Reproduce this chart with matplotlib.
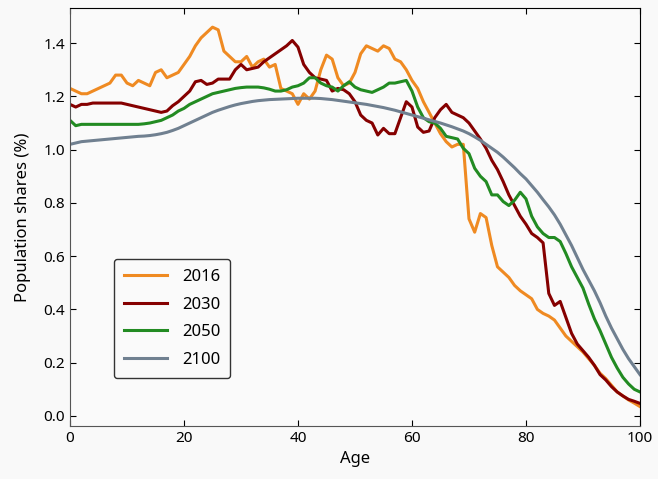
import matplotlib
matplotlib.use('Agg')
import matplotlib.pyplot as plt
import numpy as np

# 年龄 0..100
ages = np.arange(0, 101)

share_2016 = [
    1.23, 1.22, 1.21, 1.21, 1.22, 1.23, 1.24, 1.25, 1.28, 1.28,
    1.25, 1.24, 1.26, 1.25, 1.24, 1.29, 1.30, 1.27, 1.28, 1.29,
    1.32, 1.35, 1.39, 1.42, 1.44, 1.46, 1.45, 1.37, 1.35, 1.33,
    1.33, 1.35, 1.31, 1.33, 1.34, 1.31, 1.32, 1.23, 1.22, 1.21,
    1.17, 1.21, 1.19, 1.22, 1.30, 1.355, 1.34, 1.27, 1.24, 1.25,
    1.29, 1.36, 1.39, 1.38, 1.37, 1.39, 1.38, 1.34, 1.33, 1.30,
    1.26, 1.23, 1.18, 1.14, 1.10, 1.06, 1.03, 1.01, 1.02, 1.02,
    0.74, 0.69, 0.76, 0.745, 0.64, 0.56, 0.54, 0.52, 0.49, 0.47,
    0.455, 0.44, 0.40, 0.385, 0.375, 0.36, 0.33, 0.30, 0.28, 0.26,
    0.24, 0.215, 0.19, 0.16, 0.14, 0.115, 0.09, 0.075, 0.06, 0.048,
    0.035,
]

share_2030 = [
    1.17, 1.16, 1.17, 1.17, 1.175, 1.175, 1.175, 1.175, 1.175, 1.175,
    1.17, 1.165, 1.16, 1.155, 1.15, 1.145, 1.14, 1.145, 1.165, 1.18,
    1.20, 1.22, 1.255, 1.26, 1.245, 1.25, 1.265, 1.265, 1.265, 1.30,
    1.32, 1.30, 1.305, 1.31, 1.33, 1.345, 1.36, 1.375, 1.39, 1.41,
    1.385, 1.32, 1.29, 1.27, 1.265, 1.26, 1.22, 1.23, 1.225, 1.21,
    1.18, 1.13, 1.11, 1.10, 1.055, 1.08, 1.06, 1.06, 1.12, 1.18,
    1.16, 1.085, 1.065, 1.07, 1.12, 1.15, 1.17, 1.14, 1.13, 1.12,
    1.10, 1.07, 1.04, 1.005, 0.96, 0.925, 0.88, 0.83, 0.79, 0.75,
    0.72, 0.685, 0.67, 0.65, 0.46, 0.415, 0.43, 0.37, 0.31, 0.27,
    0.245, 0.22, 0.19, 0.155, 0.135, 0.11, 0.09, 0.075, 0.062, 0.055,
    0.047,
]

share_2050 = [
    1.11, 1.09, 1.095, 1.095, 1.095, 1.095, 1.095, 1.095, 1.095, 1.095,
    1.095, 1.095, 1.095, 1.097, 1.10, 1.105, 1.11, 1.12, 1.13, 1.145,
    1.155, 1.17, 1.18, 1.19, 1.20, 1.21, 1.215, 1.22, 1.225, 1.23,
    1.233, 1.235, 1.235, 1.235, 1.232, 1.227, 1.22, 1.22, 1.225, 1.235,
    1.24, 1.25, 1.27, 1.27, 1.25, 1.24, 1.235, 1.22, 1.24, 1.255,
    1.235, 1.225, 1.22, 1.215, 1.225, 1.235, 1.25, 1.25, 1.255, 1.26,
    1.22, 1.16, 1.12, 1.105, 1.10, 1.08, 1.05, 1.045, 1.04, 1.005,
    0.985, 0.93, 0.90, 0.88, 0.83, 0.83, 0.805, 0.79, 0.81, 0.84,
    0.815, 0.75, 0.71, 0.685, 0.67, 0.67, 0.655, 0.61, 0.56, 0.52,
    0.48, 0.42, 0.365, 0.32, 0.27, 0.22, 0.18, 0.145, 0.12, 0.10,
    0.09,
]

share_2100 = [
    1.02, 1.025, 1.03, 1.032, 1.034, 1.036, 1.038, 1.04, 1.042, 1.044,
    1.046, 1.048, 1.05, 1.051, 1.053, 1.056, 1.06, 1.065, 1.072, 1.08,
    1.09, 1.10, 1.11, 1.12, 1.13, 1.14, 1.148, 1.155, 1.162, 1.168,
    1.173, 1.177, 1.181, 1.184, 1.186, 1.188, 1.189, 1.19, 1.191, 1.192,
    1.193, 1.193, 1.193, 1.193, 1.192, 1.19, 1.188, 1.185, 1.182, 1.179,
    1.176, 1.173, 1.17, 1.166, 1.162, 1.158, 1.153, 1.148, 1.142, 1.136,
    1.13, 1.124, 1.118, 1.112, 1.106, 1.10, 1.093, 1.086, 1.078, 1.07,
    1.06, 1.048, 1.035, 1.02, 1.005, 0.99, 0.972, 0.952, 0.932, 0.91,
    0.89, 0.865, 0.84, 0.812, 0.785, 0.755, 0.72, 0.68, 0.64, 0.595,
    0.55, 0.51, 0.47, 0.425, 0.375, 0.33, 0.29, 0.25, 0.215, 0.185,
    0.155,
]

years = ['2016', '2030', '2050', '2100']
colors = ['#ef8a22', '#850000', '#228b22', '#708090']

plt.rcParams['font.family'] = ['Noto Sans', 'DejaVu Sans']

fig = plt.figure(figsize=(6.58, 4.79), dpi=100, facecolor='#f9f9f9')
ax = fig.add_axes([0.1064, 0.1106, 0.8662, 0.8727], facecolor='#fafafa')

for yr, vals, c in zip(years, [share_2016, share_2030, share_2050, share_2100], colors):
    ax.plot(ages, vals, color=c, lw=2.2, label=yr)

ax.set_xlim(0, 100)
ax.set_ylim(-0.038, 1.532)
ax.set_xticks(np.arange(0, 101, 20))
ax.set_yticks(np.arange(0, 1.41, 0.2))
ax.yaxis.set_major_formatter(matplotlib.ticker.FormatStrFormatter('%.1f'))
ax.tick_params(direction='in', top=True, right=True, length=4, labelsize=11)
ax.set_xlabel('Age', fontsize=12, labelpad=4)
ax.set_ylabel('Population shares (%)', fontsize=12, labelpad=9)

for s in ['left', 'bottom']:
    ax.spines[s].set_color('#555555')

leg = ax.legend(loc='lower left', bbox_to_anchor=(0.062, 0.095), fontsize=12,
                handlelength=2.6, handletextpad=0.9, labelspacing=0.7,
                borderpad=0.6, fancybox=True, framealpha=1, facecolor='#fafafa',
                edgecolor='#333333')

fig.savefig('out.png', dpi=100, facecolor=fig.get_facecolor())
